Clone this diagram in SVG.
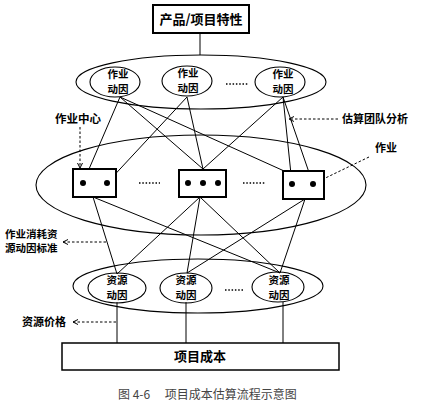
<svg xmlns="http://www.w3.org/2000/svg" width="445" height="406" viewBox="0 0 445 406">
<defs>
<marker id="arr" markerWidth="6" markerHeight="6" refX="5" refY="3" orient="auto" markerUnits="userSpaceOnUse">
<path d="M0,0.5 L5,3 L0,5.5" fill="none" stroke="#000" stroke-width="1"/>
</marker>
<style>
.t{font-family:"Noto Sans CJK SC","Noto Sans",sans-serif;font-weight:bold;fill:#000;}
.c{font-family:"Noto Sans CJK SC","Noto Sans",sans-serif;fill:#444;font-size:12px;}
.el{fill:none;stroke:#000;stroke-width:1.1;}
.bx{fill:#fff;stroke:#000;stroke-width:2;}
.ln{stroke:#000;stroke-width:1;fill:none;}
.ds{stroke:#000;stroke-width:1;fill:none;stroke-dasharray:2.5,2;}
.dot{fill:#000;}
.dd{stroke:#000;stroke-width:1.3;stroke-dasharray:1.5,1.8;}
</style>
</defs>
<rect width="445" height="406" fill="#fff"/>

<g id="connectors">
<line class="ln" x1="200" y1="33" x2="200" y2="55"/>
<line class="ln" x1="120" y1="97" x2="83" y2="183"/>
<line class="ln" x1="120" y1="97" x2="203" y2="169"/>
<line class="ln" x1="120" y1="97" x2="313" y2="184"/>
<line class="ln" x1="187" y1="97" x2="107" y2="183"/>
<line class="ln" x1="187" y1="97" x2="203" y2="169"/>
<line class="ln" x1="283" y1="97" x2="203" y2="169"/>
<line class="ln" x1="283" y1="97" x2="292" y2="184"/>
<line class="ln" x1="283" y1="97" x2="313" y2="184"/>
<line class="ln" x1="203" y1="169" x2="188" y2="183"/>
<line class="ln" x1="203" y1="169" x2="203" y2="183"/>
<line class="ln" x1="203" y1="169" x2="218" y2="183"/>
<line class="ln" x1="93" y1="197" x2="117" y2="274"/>
<line class="ln" x1="93" y1="197" x2="280" y2="273"/>
<line class="ln" x1="200" y1="197" x2="117" y2="274"/>
<line class="ln" x1="200" y1="197" x2="187" y2="273"/>
<line class="ln" x1="200" y1="197" x2="280" y2="273"/>
<line class="ln" x1="305" y1="199" x2="187" y2="273"/>
<line class="ln" x1="305" y1="199" x2="280" y2="273"/>
<line class="ln" x1="117" y1="302" x2="117" y2="343"/>
<line class="ln" x1="186" y1="302" x2="186" y2="343"/>
<line class="ln" x1="283" y1="302" x2="283" y2="343"/>
<line class="ds" x1="80" y1="127" x2="80" y2="168" marker-end="url(#arr)"/>
<line class="ds" x1="338" y1="119" x2="289" y2="119" marker-end="url(#arr)"/>
<line class="ds" x1="369" y1="157" x2="315" y2="183" marker-end="url(#arr)"/>
<line class="ds" x1="106" y1="242" x2="63" y2="242" marker-end="url(#arr)"/>
<line class="ds" x1="116" y1="322" x2="73" y2="322" marker-end="url(#arr)"/>
</g>

<g id="product">
<rect class="bx" x="153" y="5" width="96" height="28"/>
<text class="t" x="201" y="24" font-size="13" text-anchor="middle">产品/项目特性</text>
</g>

<g id="activity-drivers">
<ellipse class="el" cx="201" cy="82" rx="125" ry="27"/>
<ellipse class="el" cx="115" cy="82" rx="25" ry="15" fill="#fff"/>
<ellipse class="el" cx="187" cy="81" rx="25" ry="15" fill="#fff"/>
<ellipse class="el" cx="280" cy="82" rx="25" ry="15" fill="#fff"/>
<text class="t" x="118" y="78" font-size="10.5" text-anchor="middle">作业</text>
<text class="t" x="118" y="93" font-size="10.5" text-anchor="middle">动因</text>
<text class="t" x="188" y="77" font-size="10.5" text-anchor="middle">作业</text>
<text class="t" x="188" y="92" font-size="10.5" text-anchor="middle">动因</text>
<text class="t" x="283" y="78" font-size="10.5" text-anchor="middle">作业</text>
<text class="t" x="283" y="93" font-size="10.5" text-anchor="middle">动因</text>
<line class="dd" x1="226" y1="84" x2="248" y2="84"/>
</g>

<g id="activity-centers">
<ellipse class="el" cx="201" cy="185" rx="165" ry="50"/>
<rect class="bx" x="73" y="169" width="43" height="28"/>
<rect class="bx" x="179" y="170" width="47" height="27"/>
<rect class="bx" x="283" y="171" width="41" height="28"/>
<circle class="dot" cx="83" cy="183" r="3"/>
<circle class="dot" cx="107" cy="183" r="3"/>
<circle class="dot" cx="188" cy="183" r="3"/>
<circle class="dot" cx="203" cy="183" r="3"/>
<circle class="dot" cx="218" cy="183" r="3"/>
<circle class="dot" cx="292" cy="184" r="3"/>
<circle class="dot" cx="313" cy="184" r="3"/>
<line class="dd" x1="139" y1="183" x2="160" y2="183"/>
<line class="dd" x1="243" y1="183" x2="265" y2="183"/>
</g>

<g id="resource-drivers">
<ellipse class="el" cx="198" cy="286" rx="125" ry="27"/>
<ellipse class="el" cx="117" cy="288" rx="29" ry="15"/>
<ellipse class="el" cx="186" cy="288" rx="26" ry="15"/>
<ellipse class="el" cx="278" cy="287" rx="26" ry="15"/>
<text class="t" x="117" y="284" font-size="10.5" text-anchor="middle">资源</text>
<text class="t" x="117" y="299" font-size="10.5" text-anchor="middle">动因</text>
<text class="t" x="186" y="284" font-size="10.5" text-anchor="middle">资源</text>
<text class="t" x="186" y="299" font-size="10.5" text-anchor="middle">动因</text>
<text class="t" x="279" y="284" font-size="10.5" text-anchor="middle">资源</text>
<text class="t" x="279" y="299" font-size="10.5" text-anchor="middle">动因</text>
<line class="dd" x1="225" y1="290" x2="243" y2="290"/>
</g>

<g id="project-cost">
<rect x="62" y="343" width="277" height="27" fill="#fff" stroke="#000" stroke-width="1.5"/>
<text class="t" x="200" y="361" font-size="13" text-anchor="middle">项目成本</text>
</g>

<g id="labels">
<text class="t" x="55" y="123" font-size="11.5">作业中心</text>
<text class="t" x="342" y="123" font-size="11">估算团队分析</text>
<text class="t" x="375" y="152" font-size="11">作业</text>
<text class="t" x="5" y="238" font-size="10.5">作业消耗资</text>
<text class="t" x="5" y="252" font-size="10.5">源动因标准</text>
<text class="t" x="22" y="326" font-size="11">资源价格</text>
</g>

<text class="c" x="118" y="399">图 4-6　 项目成本估算流程示意图</text>
</svg>
